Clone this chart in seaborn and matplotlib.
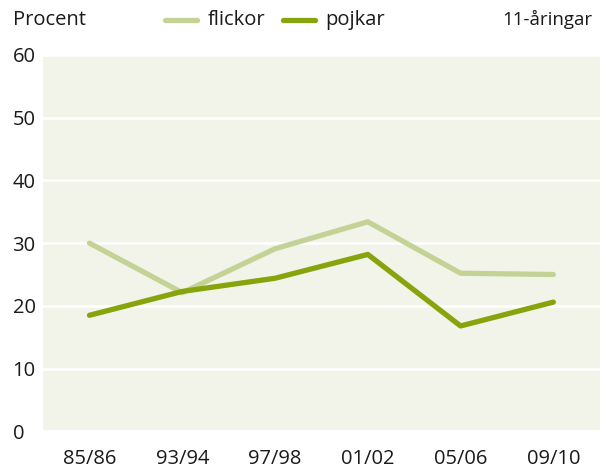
import matplotlib
matplotlib.use("Agg")
import matplotlib.pyplot as plt
import seaborn as sns
import pandas as pd

# data
years = ["85/86", "93/94", "97/98", "01/02", "05/06", "09/10"]
flickor = [30.0, 22.1, 29.1, 33.4, 25.2, 25.0]
pojkar = [18.5, 22.3, 24.4, 28.2, 16.8, 20.6]

df = pd.DataFrame({
    "year": years * 2,
    "value": flickor + pojkar,
    "group": ["flickor"] * len(years) + ["pojkar"] * len(years),
})

sns.set_theme(style="white")
plt.rcParams["font.family"] = ["Open Sans", "DejaVu Sans"]

fig = plt.figure(figsize=(6.07, 4.73), dpi=100)
ax = fig.add_axes([0.071, 0.088, 0.917, 0.796])
ax.set_facecolor("#f3f4e9")

pal = {"flickor": "#c5d296", "pojkar": "#87a40c"}
sns.lineplot(data=df, x="year", y="value", hue="group", palette=pal,
             linewidth=3.8, solid_capstyle="round", solid_joinstyle="round",
             sort=False, ax=ax, legend=False)

ax.set_ylim(0, 60)
ax.set_xlim(-0.5, len(years) - 0.5)
ax.set_yticks(range(0, 61, 10))
ax.yaxis.grid(True, color="white", linewidth=2)
ax.set_axisbelow(True)
for s in ax.spines.values():
    s.set_visible(False)
ax.tick_params(axis="both", length=0, labelsize=14.5, colors="#1a1a1a")
ax.tick_params(axis="x", pad=13)
ax.tick_params(axis="y", pad=22)
for lab in ax.get_yticklabels():
    lab.set_horizontalalignment("left")
ax.set_xlabel("")
ax.set_ylabel("")

# header
fig.text(0.021, 0.958, "Procent", fontsize=14.5, va="center", color="#1a1a1a")
fig.text(0.976, 0.958, "11-åringar", fontsize=13.5, va="center", ha="right", color="#1a1a1a")
for x0, name in [(0.272, "flickor"), (0.466, "pojkar")]:
    fig.add_artist(plt.Line2D([x0, x0 + 0.053], [0.958, 0.958], color=pal[name],
                              linewidth=3.8, solid_capstyle="round", transform=fig.transFigure))
    fig.text(x0 + 0.07, 0.958, name, fontsize=14.5, va="center", color="#1a1a1a")

fig.savefig("out.png", dpi=100)
